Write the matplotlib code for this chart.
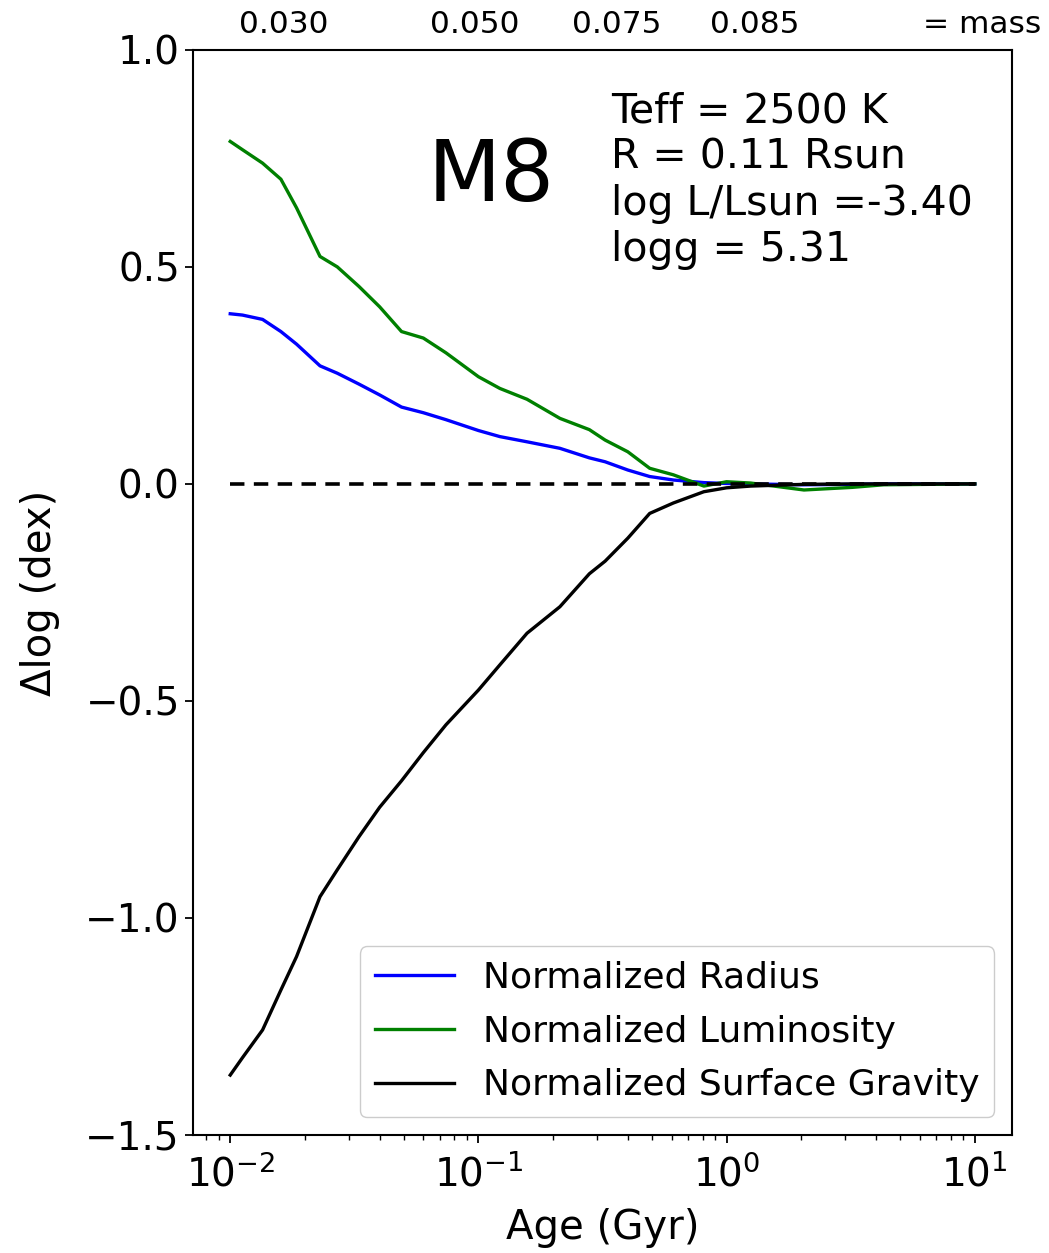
import matplotlib
matplotlib.use("Agg")
import matplotlib.pyplot as plt
from matplotlib.transforms import blended_transform_factory

# Ages (Gyr) of the evolutionary grid
age = [0.010, 0.0112, 0.0135, 0.016, 0.0185, 0.023, 0.027, 0.033, 0.040,
       0.049, 0.060, 0.074, 0.100, 0.122, 0.157, 0.213, 0.28, 0.324, 0.40,
       0.49, 0.61, 0.81, 1.0, 1.25, 2.05, 3.2, 4.3, 10.0]

# Offsets in dex relative to the field-age values
d_radius = [0.392, 0.389, 0.379, 0.351, 0.322, 0.272, 0.255, 0.230, 0.205,
            0.177, 0.164, 0.148, 0.123, 0.109, 0.097, 0.082, 0.060, 0.051,
            0.032, 0.017, 0.009, 0.003, 0.001, 0.000, -0.002, -0.001, 0.0, 0.0]
d_lum = [0.789, 0.770, 0.739, 0.702, 0.636, 0.524, 0.500, 0.455, 0.408,
         0.351, 0.336, 0.302, 0.247, 0.220, 0.195, 0.151, 0.125, 0.101,
         0.074, 0.036, 0.021, -0.005, 0.005, 0.002, -0.014, -0.008, -0.002, 0.0]
d_logg = [-1.362, -1.322, -1.258, -1.166, -1.089, -0.951, -0.889, -0.813,
          -0.745, -0.684, -0.619, -0.555, -0.475, -0.417, -0.344, -0.283,
          -0.207, -0.178, -0.125, -0.068, -0.044, -0.018, -0.009, -0.005,
          -0.001, 0.0, 0.0, 0.0]

# Mass labels along the top of the panel
mass_labels = ["0.030", "0.050", "0.075", "0.085", "= mass"]
mass_label_age = [0.0165, 0.097, 0.36, 1.3, 10.7]

spectral_type = "M8"
star_info = "Teff = 2500 K\nR = 0.11 Rsun\nlog L/Lsun =-3.40\nlogg = 5.31"

fig = plt.figure(figsize=(10.49, 12.53), dpi=100)
ax = fig.add_axes([0.184, 0.0942, 0.7807, 0.866])

lw = 2.4
ax.plot(age, d_radius, color="blue", lw=lw, label="Normalized Radius")
ax.plot(age, d_lum, color="green", lw=lw, label="Normalized Luminosity")
ax.plot(age, d_logg, color="black", lw=lw, label="Normalized Surface Gravity")
ax.plot([age[0], age[-1]], [0, 0], color="black", lw=2.6, ls=(0, (4, 2.6)))

ax.set_xscale("log")
ax.set_ylim(-1.5, 1.0)
ax.set_yticks([-1.5, -1.0, -0.5, 0.0, 0.5, 1.0])

ax.set_xlabel("Age (Gyr)", fontsize=29, labelpad=10)
ax.set_ylabel("Δlog (dex)", fontsize=29, labelpad=18)
ax.tick_params(axis="both", which="major", labelsize=28, length=6, width=1.3)
ax.tick_params(axis="x", which="major", pad=8)
ax.tick_params(axis="both", which="minor", length=3.5, width=1.0)
for s in ax.spines.values():
    s.set_linewidth(1.5)

ax.text(0.364, 0.882, spectral_type, transform=ax.transAxes, fontsize=61,
        ha="center", va="center")
ax.text(0.510, 0.962, star_info, transform=ax.transAxes, fontsize=29.5,
        ha="left", va="top", linespacing=1.2)

trans = blended_transform_factory(ax.transData, ax.transAxes)
for lab, a in zip(mass_labels, mass_label_age):
    ax.text(a, 1.023, lab, transform=trans, fontsize=22.5,
            ha="center", va="center", clip_on=False)

leg = ax.legend(loc="lower right", fontsize=26, handlelength=2.2,
                labelspacing=0.55, framealpha=1.0)
for line in leg.get_lines():
    line.set_linewidth(2.4)

fig.savefig("out.png", dpi=100)
